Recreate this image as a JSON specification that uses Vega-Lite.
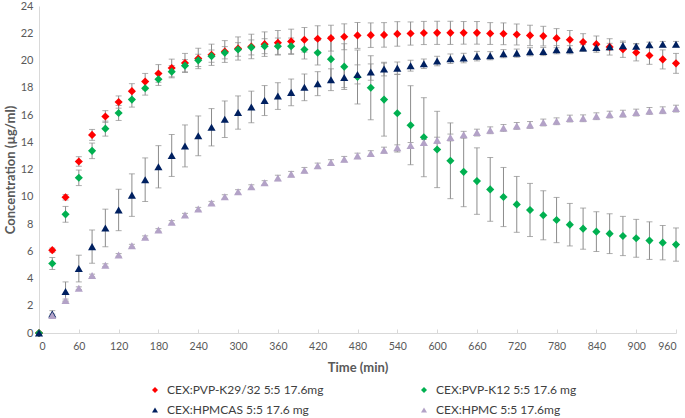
{
  "$schema": "https://vega.github.io/schema/vega-lite/v6.json",
  "autosize": {"type": "none"},
  "padding": {"left": 39, "top": 6, "right": 9, "bottom": 85},
  "width": 637,
  "height": 327,
  "background": "white",
  "config": {
    "view": {"stroke": null},
    "font": "Lato",
    "axis": {"grid": false, "domainColor": "#d9d9d9", "tickColor": "#d9d9d9", "labelColor": "#595959", "titleColor": "#595959", "labelFont": "Lato", "titleFont": "Lato", "labelFontSize": 11, "titleFontSize": 13, "titleFontWeight": "bold", "labelOverlap": false},
    "legend": {"labelFont": "Lato", "labelFontSize": 12, "labelColor": "#404040", "labelLimit": 400}
  },
  "datasets": {
    "d": [
      {"s": "CEX:PVP-K29/32 5:5 17.6mg", "t": 0, "c": 0, "e": 0},
      {"s": "CEX:PVP-K29/32 5:5 17.6mg", "t": 20, "c": 6.08, "e": 0.15},
      {"s": "CEX:PVP-K29/32 5:5 17.6mg", "t": 40, "c": 9.96, "e": 0.2},
      {"s": "CEX:PVP-K29/32 5:5 17.6mg", "t": 60, "c": 12.59, "e": 0.35},
      {"s": "CEX:PVP-K29/32 5:5 17.6mg", "t": 80, "c": 14.54, "e": 0.4},
      {"s": "CEX:PVP-K29/32 5:5 17.6mg", "t": 100, "c": 15.89, "e": 0.43},
      {"s": "CEX:PVP-K29/32 5:5 17.6mg", "t": 120, "c": 16.95, "e": 0.45},
      {"s": "CEX:PVP-K29/32 5:5 17.6mg", "t": 140, "c": 17.75, "e": 0.55},
      {"s": "CEX:PVP-K29/32 5:5 17.6mg", "t": 160, "c": 18.45, "e": 0.6},
      {"s": "CEX:PVP-K29/32 5:5 17.6mg", "t": 180, "c": 19.05, "e": 0.65},
      {"s": "CEX:PVP-K29/32 5:5 17.6mg", "t": 200, "c": 19.45, "e": 0.65},
      {"s": "CEX:PVP-K29/32 5:5 17.6mg", "t": 220, "c": 19.82, "e": 0.7},
      {"s": "CEX:PVP-K29/32 5:5 17.6mg", "t": 240, "c": 20.15, "e": 0.75},
      {"s": "CEX:PVP-K29/32 5:5 17.6mg", "t": 260, "c": 20.42, "e": 0.78},
      {"s": "CEX:PVP-K29/32 5:5 17.6mg", "t": 280, "c": 20.66, "e": 0.8},
      {"s": "CEX:PVP-K29/32 5:5 17.6mg", "t": 300, "c": 20.88, "e": 0.85},
      {"s": "CEX:PVP-K29/32 5:5 17.6mg", "t": 320, "c": 21.03, "e": 0.9},
      {"s": "CEX:PVP-K29/32 5:5 17.6mg", "t": 340, "c": 21.2, "e": 0.9},
      {"s": "CEX:PVP-K29/32 5:5 17.6mg", "t": 360, "c": 21.3, "e": 0.9},
      {"s": "CEX:PVP-K29/32 5:5 17.6mg", "t": 380, "c": 21.4, "e": 0.9},
      {"s": "CEX:PVP-K29/32 5:5 17.6mg", "t": 400, "c": 21.52, "e": 0.9},
      {"s": "CEX:PVP-K29/32 5:5 17.6mg", "t": 420, "c": 21.6, "e": 0.95},
      {"s": "CEX:PVP-K29/32 5:5 17.6mg", "t": 440, "c": 21.64, "e": 0.95},
      {"s": "CEX:PVP-K29/32 5:5 17.6mg", "t": 460, "c": 21.74, "e": 0.95},
      {"s": "CEX:PVP-K29/32 5:5 17.6mg", "t": 480, "c": 21.84, "e": 0.95},
      {"s": "CEX:PVP-K29/32 5:5 17.6mg", "t": 500, "c": 21.86, "e": 0.9},
      {"s": "CEX:PVP-K29/32 5:5 17.6mg", "t": 520, "c": 21.88, "e": 0.9},
      {"s": "CEX:PVP-K29/32 5:5 17.6mg", "t": 540, "c": 21.95, "e": 0.9},
      {"s": "CEX:PVP-K29/32 5:5 17.6mg", "t": 560, "c": 21.98, "e": 0.85},
      {"s": "CEX:PVP-K29/32 5:5 17.6mg", "t": 580, "c": 22.02, "e": 0.85},
      {"s": "CEX:PVP-K29/32 5:5 17.6mg", "t": 600, "c": 22.03, "e": 0.85},
      {"s": "CEX:PVP-K29/32 5:5 17.6mg", "t": 620, "c": 22.03, "e": 0.85},
      {"s": "CEX:PVP-K29/32 5:5 17.6mg", "t": 640, "c": 22.03, "e": 0.83},
      {"s": "CEX:PVP-K29/32 5:5 17.6mg", "t": 660, "c": 22.03, "e": 0.83},
      {"s": "CEX:PVP-K29/32 5:5 17.6mg", "t": 680, "c": 21.98, "e": 0.8},
      {"s": "CEX:PVP-K29/32 5:5 17.6mg", "t": 700, "c": 21.96, "e": 0.8},
      {"s": "CEX:PVP-K29/32 5:5 17.6mg", "t": 720, "c": 21.91, "e": 0.77},
      {"s": "CEX:PVP-K29/32 5:5 17.6mg", "t": 740, "c": 21.84, "e": 0.75},
      {"s": "CEX:PVP-K29/32 5:5 17.6mg", "t": 760, "c": 21.79, "e": 0.72},
      {"s": "CEX:PVP-K29/32 5:5 17.6mg", "t": 780, "c": 21.64, "e": 0.7},
      {"s": "CEX:PVP-K29/32 5:5 17.6mg", "t": 800, "c": 21.52, "e": 0.68},
      {"s": "CEX:PVP-K29/32 5:5 17.6mg", "t": 820, "c": 21.35, "e": 0.62},
      {"s": "CEX:PVP-K29/32 5:5 17.6mg", "t": 840, "c": 21.2, "e": 0.6},
      {"s": "CEX:PVP-K29/32 5:5 17.6mg", "t": 860, "c": 21.0, "e": 0.6},
      {"s": "CEX:PVP-K29/32 5:5 17.6mg", "t": 880, "c": 20.83, "e": 0.6},
      {"s": "CEX:PVP-K29/32 5:5 17.6mg", "t": 900, "c": 20.59, "e": 0.62},
      {"s": "CEX:PVP-K29/32 5:5 17.6mg", "t": 920, "c": 20.37, "e": 0.65},
      {"s": "CEX:PVP-K29/32 5:5 17.6mg", "t": 940, "c": 20.08, "e": 0.7},
      {"s": "CEX:PVP-K29/32 5:5 17.6mg", "t": 960, "c": 19.79, "e": 0.73},
      {"s": "CEX:PVP-K12 5:5 17.6 mg", "t": 0, "c": 0, "e": 0},
      {"s": "CEX:PVP-K12 5:5 17.6 mg", "t": 20, "c": 5.1, "e": 0.44},
      {"s": "CEX:PVP-K12 5:5 17.6 mg", "t": 40, "c": 8.71, "e": 0.58},
      {"s": "CEX:PVP-K12 5:5 17.6 mg", "t": 60, "c": 11.39, "e": 0.57},
      {"s": "CEX:PVP-K12 5:5 17.6 mg", "t": 80, "c": 13.37, "e": 0.57},
      {"s": "CEX:PVP-K12 5:5 17.6 mg", "t": 100, "c": 15.0, "e": 0.55},
      {"s": "CEX:PVP-K12 5:5 17.6 mg", "t": 120, "c": 16.15, "e": 0.55},
      {"s": "CEX:PVP-K12 5:5 17.6 mg", "t": 140, "c": 17.13, "e": 0.55},
      {"s": "CEX:PVP-K12 5:5 17.6 mg", "t": 160, "c": 17.96, "e": 0.5},
      {"s": "CEX:PVP-K12 5:5 17.6 mg", "t": 180, "c": 18.62, "e": 0.45},
      {"s": "CEX:PVP-K12 5:5 17.6 mg", "t": 200, "c": 19.18, "e": 0.45},
      {"s": "CEX:PVP-K12 5:5 17.6 mg", "t": 220, "c": 19.62, "e": 0.45},
      {"s": "CEX:PVP-K12 5:5 17.6 mg", "t": 240, "c": 20.01, "e": 0.45},
      {"s": "CEX:PVP-K12 5:5 17.6 mg", "t": 260, "c": 20.32, "e": 0.45},
      {"s": "CEX:PVP-K12 5:5 17.6 mg", "t": 280, "c": 20.57, "e": 0.45},
      {"s": "CEX:PVP-K12 5:5 17.6 mg", "t": 300, "c": 20.81, "e": 0.5},
      {"s": "CEX:PVP-K12 5:5 17.6 mg", "t": 320, "c": 20.96, "e": 0.55},
      {"s": "CEX:PVP-K12 5:5 17.6 mg", "t": 340, "c": 21.05, "e": 0.55},
      {"s": "CEX:PVP-K12 5:5 17.6 mg", "t": 360, "c": 21.05, "e": 0.6},
      {"s": "CEX:PVP-K12 5:5 17.6 mg", "t": 380, "c": 21.05, "e": 0.6},
      {"s": "CEX:PVP-K12 5:5 17.6 mg", "t": 400, "c": 20.81, "e": 0.7},
      {"s": "CEX:PVP-K12 5:5 17.6 mg", "t": 420, "c": 20.57, "e": 0.9},
      {"s": "CEX:PVP-K12 5:5 17.6 mg", "t": 440, "c": 20.1, "e": 1.65},
      {"s": "CEX:PVP-K12 5:5 17.6 mg", "t": 460, "c": 19.55, "e": 1.68},
      {"s": "CEX:PVP-K12 5:5 17.6 mg", "t": 480, "c": 18.79, "e": 1.98},
      {"s": "CEX:PVP-K12 5:5 17.6 mg", "t": 500, "c": 18.0, "e": 2.35},
      {"s": "CEX:PVP-K12 5:5 17.6 mg", "t": 520, "c": 17.13, "e": 2.68},
      {"s": "CEX:PVP-K12 5:5 17.6 mg", "t": 540, "c": 16.13, "e": 2.85},
      {"s": "CEX:PVP-K12 5:5 17.6 mg", "t": 560, "c": 15.25, "e": 2.9},
      {"s": "CEX:PVP-K12 5:5 17.6 mg", "t": 580, "c": 14.37, "e": 2.9},
      {"s": "CEX:PVP-K12 5:5 17.6 mg", "t": 600, "c": 13.47, "e": 2.8},
      {"s": "CEX:PVP-K12 5:5 17.6 mg", "t": 620, "c": 12.64, "e": 2.78},
      {"s": "CEX:PVP-K12 5:5 17.6 mg", "t": 640, "c": 11.83, "e": 2.56},
      {"s": "CEX:PVP-K12 5:5 17.6 mg", "t": 660, "c": 11.15, "e": 2.44},
      {"s": "CEX:PVP-K12 5:5 17.6 mg", "t": 680, "c": 10.54, "e": 2.34},
      {"s": "CEX:PVP-K12 5:5 17.6 mg", "t": 700, "c": 9.98, "e": 2.17},
      {"s": "CEX:PVP-K12 5:5 17.6 mg", "t": 720, "c": 9.44, "e": 2.05},
      {"s": "CEX:PVP-K12 5:5 17.6 mg", "t": 740, "c": 9.03, "e": 1.95},
      {"s": "CEX:PVP-K12 5:5 17.6 mg", "t": 760, "c": 8.64, "e": 1.8},
      {"s": "CEX:PVP-K12 5:5 17.6 mg", "t": 780, "c": 8.29, "e": 1.66},
      {"s": "CEX:PVP-K12 5:5 17.6 mg", "t": 800, "c": 7.95, "e": 1.56},
      {"s": "CEX:PVP-K12 5:5 17.6 mg", "t": 820, "c": 7.66, "e": 1.51},
      {"s": "CEX:PVP-K12 5:5 17.6 mg", "t": 840, "c": 7.44, "e": 1.46},
      {"s": "CEX:PVP-K12 5:5 17.6 mg", "t": 860, "c": 7.29, "e": 1.46},
      {"s": "CEX:PVP-K12 5:5 17.6 mg", "t": 880, "c": 7.12, "e": 1.44},
      {"s": "CEX:PVP-K12 5:5 17.6 mg", "t": 900, "c": 6.95, "e": 1.39},
      {"s": "CEX:PVP-K12 5:5 17.6 mg", "t": 920, "c": 6.78, "e": 1.38},
      {"s": "CEX:PVP-K12 5:5 17.6 mg", "t": 940, "c": 6.63, "e": 1.26},
      {"s": "CEX:PVP-K12 5:5 17.6 mg", "t": 960, "c": 6.49, "e": 1.22},
      {"s": "CEX:HPMCAS 5:5 17.6 mg", "t": 0, "c": 0, "e": 0},
      {"s": "CEX:HPMCAS 5:5 17.6 mg", "t": 20, "c": 1.39, "e": 0.25},
      {"s": "CEX:HPMCAS 5:5 17.6 mg", "t": 40, "c": 3.05, "e": 0.7},
      {"s": "CEX:HPMCAS 5:5 17.6 mg", "t": 60, "c": 4.73, "e": 0.98},
      {"s": "CEX:HPMCAS 5:5 17.6 mg", "t": 80, "c": 6.34, "e": 1.22},
      {"s": "CEX:HPMCAS 5:5 17.6 mg", "t": 100, "c": 7.71, "e": 1.38},
      {"s": "CEX:HPMCAS 5:5 17.6 mg", "t": 120, "c": 9.03, "e": 1.52},
      {"s": "CEX:HPMCAS 5:5 17.6 mg", "t": 140, "c": 10.12, "e": 1.56},
      {"s": "CEX:HPMCAS 5:5 17.6 mg", "t": 160, "c": 11.25, "e": 1.6},
      {"s": "CEX:HPMCAS 5:5 17.6 mg", "t": 180, "c": 12.2, "e": 1.55},
      {"s": "CEX:HPMCAS 5:5 17.6 mg", "t": 200, "c": 13.03, "e": 1.54},
      {"s": "CEX:HPMCAS 5:5 17.6 mg", "t": 220, "c": 13.73, "e": 1.54},
      {"s": "CEX:HPMCAS 5:5 17.6 mg", "t": 240, "c": 14.47, "e": 1.46},
      {"s": "CEX:HPMCAS 5:5 17.6 mg", "t": 260, "c": 15.1, "e": 1.37},
      {"s": "CEX:HPMCAS 5:5 17.6 mg", "t": 280, "c": 15.69, "e": 1.34},
      {"s": "CEX:HPMCAS 5:5 17.6 mg", "t": 300, "c": 16.18, "e": 1.22},
      {"s": "CEX:HPMCAS 5:5 17.6 mg", "t": 320, "c": 16.59, "e": 1.16},
      {"s": "CEX:HPMCAS 5:5 17.6 mg", "t": 340, "c": 17.06, "e": 1.1},
      {"s": "CEX:HPMCAS 5:5 17.6 mg", "t": 360, "c": 17.39, "e": 0.98},
      {"s": "CEX:HPMCAS 5:5 17.6 mg", "t": 380, "c": 17.66, "e": 0.98},
      {"s": "CEX:HPMCAS 5:5 17.6 mg", "t": 400, "c": 18.03, "e": 0.98},
      {"s": "CEX:HPMCAS 5:5 17.6 mg", "t": 420, "c": 18.3, "e": 0.88},
      {"s": "CEX:HPMCAS 5:5 17.6 mg", "t": 440, "c": 18.59, "e": 0.8},
      {"s": "CEX:HPMCAS 5:5 17.6 mg", "t": 460, "c": 18.76, "e": 0.75},
      {"s": "CEX:HPMCAS 5:5 17.6 mg", "t": 480, "c": 18.98, "e": 0.7},
      {"s": "CEX:HPMCAS 5:5 17.6 mg", "t": 500, "c": 19.15, "e": 0.6},
      {"s": "CEX:HPMCAS 5:5 17.6 mg", "t": 520, "c": 19.37, "e": 0.5},
      {"s": "CEX:HPMCAS 5:5 17.6 mg", "t": 540, "c": 19.44, "e": 0.45},
      {"s": "CEX:HPMCAS 5:5 17.6 mg", "t": 560, "c": 19.62, "e": 0.4},
      {"s": "CEX:HPMCAS 5:5 17.6 mg", "t": 580, "c": 19.76, "e": 0.35},
      {"s": "CEX:HPMCAS 5:5 17.6 mg", "t": 600, "c": 19.96, "e": 0.35},
      {"s": "CEX:HPMCAS 5:5 17.6 mg", "t": 620, "c": 20.13, "e": 0.35},
      {"s": "CEX:HPMCAS 5:5 17.6 mg", "t": 640, "c": 20.18, "e": 0.35},
      {"s": "CEX:HPMCAS 5:5 17.6 mg", "t": 660, "c": 20.32, "e": 0.35},
      {"s": "CEX:HPMCAS 5:5 17.6 mg", "t": 680, "c": 20.35, "e": 0.3},
      {"s": "CEX:HPMCAS 5:5 17.6 mg", "t": 700, "c": 20.5, "e": 0.3},
      {"s": "CEX:HPMCAS 5:5 17.6 mg", "t": 720, "c": 20.54, "e": 0.3},
      {"s": "CEX:HPMCAS 5:5 17.6 mg", "t": 740, "c": 20.64, "e": 0.3},
      {"s": "CEX:HPMCAS 5:5 17.6 mg", "t": 760, "c": 20.66, "e": 0.3},
      {"s": "CEX:HPMCAS 5:5 17.6 mg", "t": 780, "c": 20.79, "e": 0.3},
      {"s": "CEX:HPMCAS 5:5 17.6 mg", "t": 800, "c": 20.79, "e": 0.3},
      {"s": "CEX:HPMCAS 5:5 17.6 mg", "t": 820, "c": 20.91, "e": 0.25},
      {"s": "CEX:HPMCAS 5:5 17.6 mg", "t": 840, "c": 20.96, "e": 0.25},
      {"s": "CEX:HPMCAS 5:5 17.6 mg", "t": 860, "c": 21.01, "e": 0.25},
      {"s": "CEX:HPMCAS 5:5 17.6 mg", "t": 880, "c": 21.08, "e": 0.25},
      {"s": "CEX:HPMCAS 5:5 17.6 mg", "t": 900, "c": 21.05, "e": 0.2},
      {"s": "CEX:HPMCAS 5:5 17.6 mg", "t": 920, "c": 21.15, "e": 0.2},
      {"s": "CEX:HPMCAS 5:5 17.6 mg", "t": 940, "c": 21.2, "e": 0.2},
      {"s": "CEX:HPMCAS 5:5 17.6 mg", "t": 960, "c": 21.2, "e": 0.2},
      {"s": "CEX:HPMC 5:5 17.6mg", "t": 20, "c": 1.29, "e": 0.1},
      {"s": "CEX:HPMC 5:5 17.6mg", "t": 40, "c": 2.39, "e": 0.1},
      {"s": "CEX:HPMC 5:5 17.6mg", "t": 60, "c": 3.29, "e": 0.1},
      {"s": "CEX:HPMC 5:5 17.6mg", "t": 80, "c": 4.22, "e": 0.1},
      {"s": "CEX:HPMC 5:5 17.6mg", "t": 100, "c": 4.98, "e": 0.1},
      {"s": "CEX:HPMC 5:5 17.6mg", "t": 120, "c": 5.73, "e": 0.1},
      {"s": "CEX:HPMC 5:5 17.6mg", "t": 140, "c": 6.41, "e": 0.1},
      {"s": "CEX:HPMC 5:5 17.6mg", "t": 160, "c": 7.03, "e": 0.1},
      {"s": "CEX:HPMC 5:5 17.6mg", "t": 180, "c": 7.56, "e": 0.1},
      {"s": "CEX:HPMC 5:5 17.6mg", "t": 200, "c": 8.13, "e": 0.12},
      {"s": "CEX:HPMC 5:5 17.6mg", "t": 220, "c": 8.66, "e": 0.12},
      {"s": "CEX:HPMC 5:5 17.6mg", "t": 240, "c": 9.1, "e": 0.12},
      {"s": "CEX:HPMC 5:5 17.6mg", "t": 260, "c": 9.54, "e": 0.12},
      {"s": "CEX:HPMC 5:5 17.6mg", "t": 280, "c": 10.0, "e": 0.15},
      {"s": "CEX:HPMC 5:5 17.6mg", "t": 300, "c": 10.37, "e": 0.15},
      {"s": "CEX:HPMC 5:5 17.6mg", "t": 320, "c": 10.73, "e": 0.15},
      {"s": "CEX:HPMC 5:5 17.6mg", "t": 340, "c": 11.03, "e": 0.15},
      {"s": "CEX:HPMC 5:5 17.6mg", "t": 360, "c": 11.38, "e": 0.2},
      {"s": "CEX:HPMC 5:5 17.6mg", "t": 380, "c": 11.66, "e": 0.2},
      {"s": "CEX:HPMC 5:5 17.6mg", "t": 400, "c": 11.95, "e": 0.2},
      {"s": "CEX:HPMC 5:5 17.6mg", "t": 420, "c": 12.27, "e": 0.2},
      {"s": "CEX:HPMC 5:5 17.6mg", "t": 440, "c": 12.52, "e": 0.2},
      {"s": "CEX:HPMC 5:5 17.6mg", "t": 460, "c": 12.76, "e": 0.2},
      {"s": "CEX:HPMC 5:5 17.6mg", "t": 480, "c": 13.0, "e": 0.2},
      {"s": "CEX:HPMC 5:5 17.6mg", "t": 500, "c": 13.18, "e": 0.2},
      {"s": "CEX:HPMC 5:5 17.6mg", "t": 520, "c": 13.42, "e": 0.22},
      {"s": "CEX:HPMC 5:5 17.6mg", "t": 540, "c": 13.59, "e": 0.22},
      {"s": "CEX:HPMC 5:5 17.6mg", "t": 560, "c": 13.76, "e": 0.22},
      {"s": "CEX:HPMC 5:5 17.6mg", "t": 580, "c": 13.98, "e": 0.22},
      {"s": "CEX:HPMC 5:5 17.6mg", "t": 600, "c": 14.15, "e": 0.22},
      {"s": "CEX:HPMC 5:5 17.6mg", "t": 620, "c": 14.35, "e": 0.25},
      {"s": "CEX:HPMC 5:5 17.6mg", "t": 640, "c": 14.55, "e": 0.25},
      {"s": "CEX:HPMC 5:5 17.6mg", "t": 660, "c": 14.71, "e": 0.25},
      {"s": "CEX:HPMC 5:5 17.6mg", "t": 680, "c": 14.88, "e": 0.25},
      {"s": "CEX:HPMC 5:5 17.6mg", "t": 700, "c": 15.05, "e": 0.25},
      {"s": "CEX:HPMC 5:5 17.6mg", "t": 720, "c": 15.2, "e": 0.25},
      {"s": "CEX:HPMC 5:5 17.6mg", "t": 740, "c": 15.27, "e": 0.25},
      {"s": "CEX:HPMC 5:5 17.6mg", "t": 760, "c": 15.45, "e": 0.25},
      {"s": "CEX:HPMC 5:5 17.6mg", "t": 780, "c": 15.54, "e": 0.25},
      {"s": "CEX:HPMC 5:5 17.6mg", "t": 800, "c": 15.74, "e": 0.25},
      {"s": "CEX:HPMC 5:5 17.6mg", "t": 820, "c": 15.76, "e": 0.25},
      {"s": "CEX:HPMC 5:5 17.6mg", "t": 840, "c": 15.91, "e": 0.25},
      {"s": "CEX:HPMC 5:5 17.6mg", "t": 860, "c": 16.03, "e": 0.25},
      {"s": "CEX:HPMC 5:5 17.6mg", "t": 880, "c": 16.1, "e": 0.25},
      {"s": "CEX:HPMC 5:5 17.6mg", "t": 900, "c": 16.18, "e": 0.25},
      {"s": "CEX:HPMC 5:5 17.6mg", "t": 920, "c": 16.3, "e": 0.25},
      {"s": "CEX:HPMC 5:5 17.6mg", "t": 940, "c": 16.35, "e": 0.25},
      {"s": "CEX:HPMC 5:5 17.6mg", "t": 960, "c": 16.47, "e": 0.25}
    ]
  },
  "data": {"name": "d"},
  "layer": [
    {
      "mark": {"type": "errorbar", "ticks": {"size": 6, "color": "#8c8c8c"}, "color": "#8c8c8c", "thickness": 1},
      "encoding": {
        "x": {"field": "t", "type": "quantitative", "title": "Time (min)",
          "scale": {"domain": [0, 960], "nice": false},
          "axis": {"values": [0, 60, 120, 180, 240, 300, 360, 420, 480, 540, 600, 660, 720, 780, 840, 900, 960], "labelOverlap": false, "tickSize": -4, "labelPadding": 12, "titlePadding": 10, "labelFontSize": 10.5}},
        "y": {"field": "c", "type": "quantitative", "title": "Concentration (µg/ml)",
          "scale": {"domain": [0, 24], "nice": false},
          "axis": {"values": [0, 2, 4, 6, 8, 10, 12, 14, 16, 18, 20, 22, 24], "labelOverlap": false, "ticks": false, "labelPadding": 6, "titlePadding": 3}},
        "yError": {"field": "e"}
      }
    },
    {
      "mark": {"type": "point", "filled": true, "opacity": 1, "size": 66},
      "encoding": {
        "x": {"field": "t", "type": "quantitative", "title": "Time (min)",
          "scale": {"domain": [0, 960], "nice": false},
          "axis": {"values": [0, 60, 120, 180, 240, 300, 360, 420, 480, 540, 600, 660, 720, 780, 840, 900, 960], "labelOverlap": false, "tickSize": -4, "labelPadding": 12, "titlePadding": 10, "labelFontSize": 10.5}},
        "y": {"field": "c", "type": "quantitative", "title": "Concentration (µg/ml)",
          "scale": {"domain": [0, 24], "nice": false},
          "axis": {"values": [0, 2, 4, 6, 8, 10, 12, 14, 16, 18, 20, 22, 24], "labelOverlap": false, "ticks": false, "labelPadding": 6, "titlePadding": 3}},
        "color": {"field": "s", "type": "nominal", "sort": null,
          "scale": {"domain": ["CEX:PVP-K29/32 5:5 17.6mg", "CEX:HPMCAS 5:5 17.6 mg", "CEX:PVP-K12 5:5 17.6 mg", "CEX:HPMC 5:5 17.6mg"], "range": ["#ff0000", "#002060", "#00b050", "#b3a2c7"]},
          "legend": {"title": null, "orient": "none", "legendX": 110, "legendY": 378, "columns": 2, "columnPadding": 94, "rowPadding": 8, "symbolSize": 36, "padding": 0, "labelOffset": 6}},
        "shape": {"field": "s", "type": "nominal", "sort": null,
          "scale": {"domain": ["CEX:PVP-K29/32 5:5 17.6mg", "CEX:HPMCAS 5:5 17.6 mg", "CEX:PVP-K12 5:5 17.6 mg", "CEX:HPMC 5:5 17.6mg"], "range": ["diamond", "triangle-up", "diamond", "triangle-up"]},
          "legend": {"title": null, "orient": "none", "legendX": 110, "legendY": 378, "columns": 2, "columnPadding": 94, "rowPadding": 8, "symbolSize": 36, "padding": 0, "labelOffset": 6}}
      }
    }
  ]
}
